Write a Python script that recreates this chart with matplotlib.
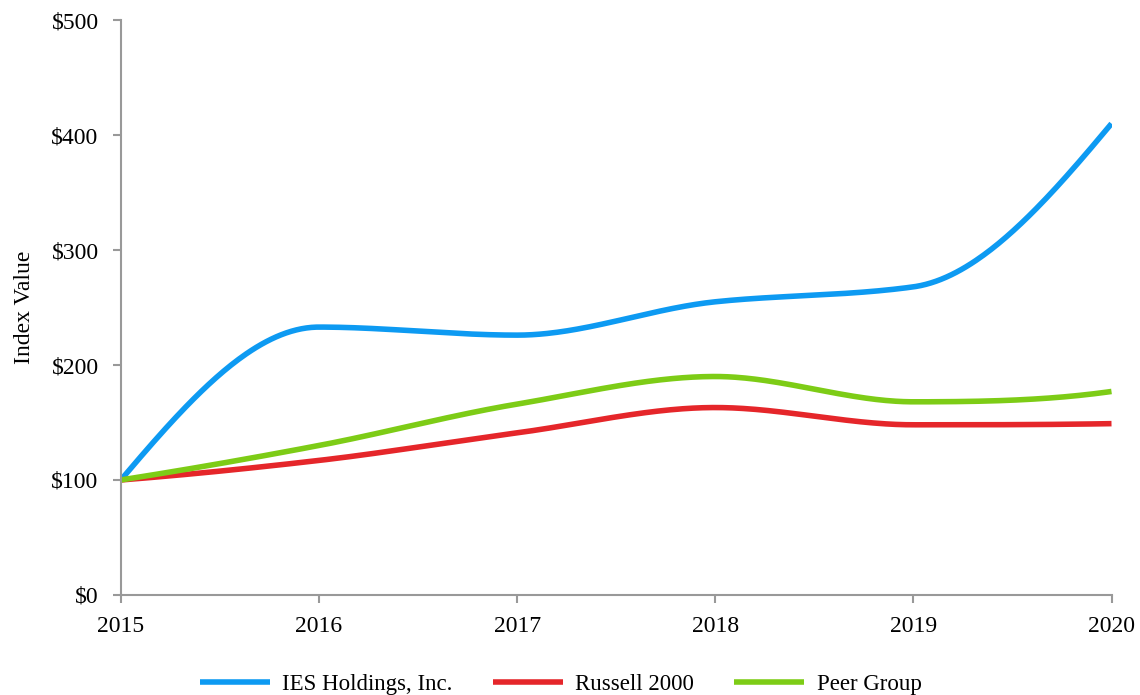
import numpy as np
import matplotlib
matplotlib.use("Agg")
import matplotlib.pyplot as plt

years = [2015, 2016, 2017, 2018, 2019, 2020]
ies = [100, 233, 226, 255, 268, 410]
russell = [100, 117, 141, 163, 148, 149]
peer = [100, 130, 166, 190, 168, 177]
yticks = [0, 100, 200, 300, 400, 500]
ytick_labels = ["$0", "$100", "$200", "$300", "$400", "$500"]

plt.rcParams['font.family'] = ['Liberation Serif', 'DejaVu Serif']


def smooth(x, y, n=80):
    """Monotone (Fritsch-Carlson) cubic rendering of the polyline."""
    x = np.asarray(x, float)
    y = np.asarray(y, float)
    h = np.diff(x)
    d = np.diff(y) / h
    m = np.zeros_like(y)
    for i in range(1, len(y) - 1):
        if d[i - 1] * d[i] > 0:
            w1 = 2 * h[i] + h[i - 1]
            w2 = h[i] + 2 * h[i - 1]
            m[i] = (w1 + w2) / (w1 / d[i - 1] + w2 / d[i])
        else:
            m[i] = 0.0
    m[0] = ((2 * h[0] + h[1]) * d[0] - h[0] * d[1]) / (h[0] + h[1])
    if np.sign(m[0]) != np.sign(d[0]):
        m[0] = 0
    elif np.sign(d[0]) != np.sign(d[1]) and abs(m[0]) > abs(3 * d[0]):
        m[0] = 3 * d[0]
    m[-1] = ((2 * h[-1] + h[-2]) * d[-1] - h[-1] * d[-2]) / (h[-1] + h[-2])
    if np.sign(m[-1]) != np.sign(d[-1]):
        m[-1] = 0
    elif np.sign(d[-1]) != np.sign(d[-2]) and abs(m[-1]) > abs(3 * d[-1]):
        m[-1] = 3 * d[-1]
    xs, ys = [], []
    for i in range(len(x) - 1):
        t = np.linspace(0, 1, n)
        h00 = 2 * t**3 - 3 * t**2 + 1
        h10 = t**3 - 2 * t**2 + t
        h01 = -2 * t**3 + 3 * t**2
        h11 = t**3 - t**2
        xs.extend(x[i] + t * h[i])
        ys.extend(h00 * y[i] + h10 * h[i] * m[i] + h01 * y[i + 1] + h11 * h[i] * m[i + 1])
    return np.array(xs), np.array(ys)


fig = plt.figure(figsize=(11.4, 6.95), dpi=100)
ax = fig.add_axes([0.106, 0.144, 0.869, 0.827])

series = [("IES Holdings, Inc.", ies, "#0d9af2"),
          ("Russell 2000", russell, "#e5262a"),
          ("Peer Group", peer, "#7dcc16")]
for name, vals, col in series:
    sx, sy = smooth(years, vals)
    ax.plot(sx, sy, color=col, lw=4, label=name, solid_capstyle='butt')

ax.set_xlim(2015, 2020)
ax.set_ylim(0, 500)
ax.set_yticks(yticks)
ax.set_yticklabels(ytick_labels)
ax.set_xticks(years)
ax.set_xticklabels([str(y) for y in years])
for s in ["top", "right"]:
    ax.spines[s].set_visible(False)
for s in ["left", "bottom"]:
    ax.spines[s].set_color("#999999")
    ax.spines[s].set_linewidth(1.5)
ax.tick_params(axis='both', colors="#999999", length=6, width=1.5, labelsize=17, labelcolor="black")
ax.tick_params(axis='y', pad=10)
ax.tick_params(axis='x', pad=9)
ax.set_ylabel("Index Value", fontsize=17, labelpad=12)

leg = fig.legend(loc="lower center", bbox_to_anchor=(0.492, -0.03), ncol=3, frameon=False,
                 fontsize=16.5, handlelength=3.05, columnspacing=1.75, handletextpad=0.55)

fig.savefig("out.png", dpi=100)
